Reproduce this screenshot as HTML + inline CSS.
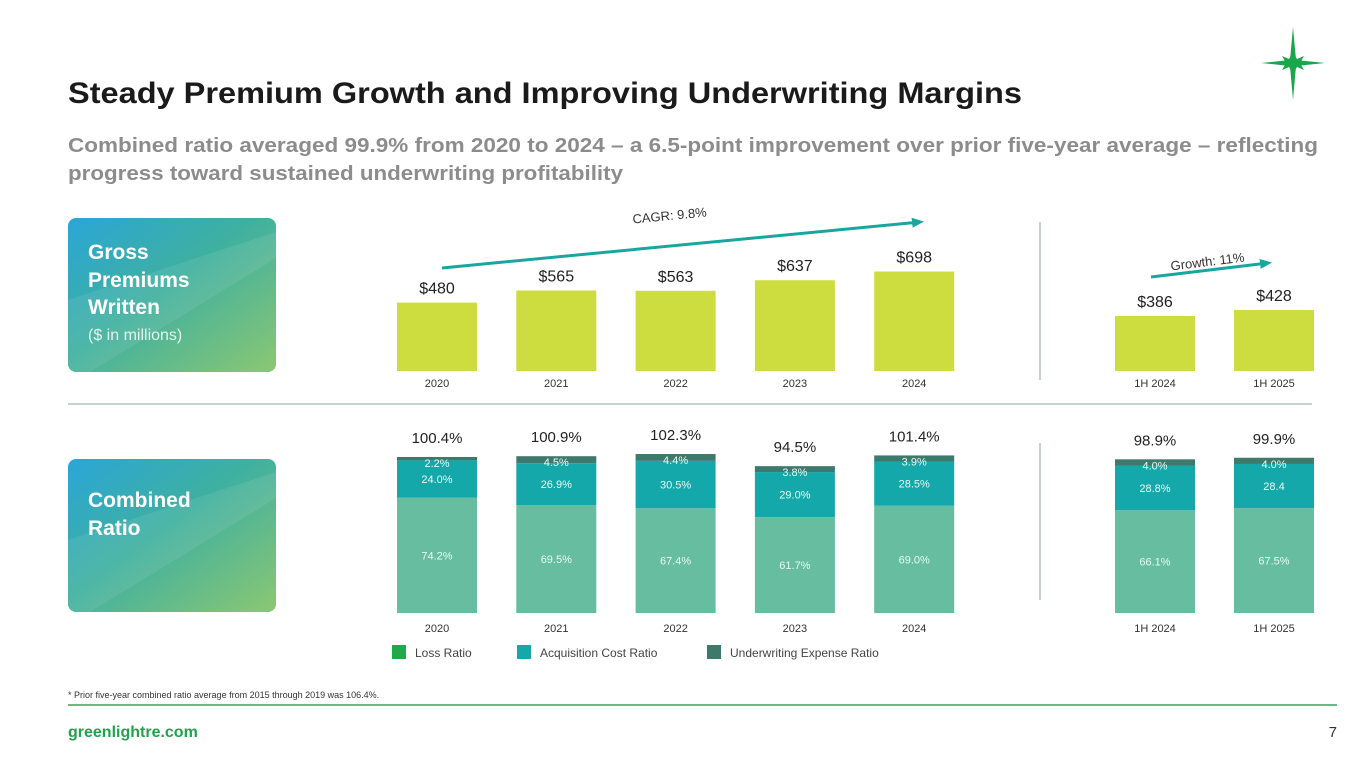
<!DOCTYPE html>
<html><head><meta charset="utf-8">
<style>
html,body{margin:0;padding:0;background:#fff;}
svg{display:block;font-family:"Liberation Sans",sans-serif;}
</style></head>
<body>
<svg id="chart" width="1365" height="768" viewBox="0 0 1365 768" xmlns="http://www.w3.org/2000/svg">
<defs>
<linearGradient id="pg" x1="0" y1="0" x2="1" y2="1">
<stop offset="0" stop-color="#2aa6d8"/><stop offset="0.45" stop-color="#3fb0a0"/><stop offset="1" stop-color="#8cc772"/>
</linearGradient>
<marker id="arr" markerUnits="userSpaceOnUse" markerWidth="12" markerHeight="10" refX="8" refY="5" orient="auto"><path d="M0,0 L12,5 L0,10 z" fill="#1aa6a0"/></marker>
</defs>
<text x="68" y="103" font-size="30" font-weight="bold" fill="#1a1a1a" textLength="954" lengthAdjust="spacingAndGlyphs">Steady Premium Growth and Improving Underwriting Margins</text>
<text x="68" y="152" font-size="20" font-weight="bold" fill="#8c8c8c" textLength="1250" lengthAdjust="spacingAndGlyphs">Combined ratio averaged 99.9% from 2020 to 2024 – a 6.5-point improvement over prior five-year average – reflecting</text>
<text x="68" y="180" font-size="20" font-weight="bold" fill="#8c8c8c" textLength="555" lengthAdjust="spacingAndGlyphs">progress toward sustained underwriting profitability</text>
<g fill="#1aa64a">
<path d="M1293,27 L1296,60 L1325,63 L1296,66 L1293,100 L1290,66 L1261,63 L1290,60 Z"/>
<path d="M1293,52 L1297,59 L1304,56 L1300,63 L1304,70 L1297,67 L1293,74 L1289,67 L1282,70 L1286,63 L1282,56 L1289,59 Z"/>
</g>
<g>
<rect x="68" y="218" width="208" height="154" rx="8" fill="url(#pg)"/>
<path d="M68,300 L276,232 L276,258 L90,372 L68,372 Z" fill="#ffffff" opacity="0.08"/>
<text x="88" y="259" font-size="21" font-weight="bold" fill="#fff">Gross</text>
<text x="88" y="287" font-size="21" font-weight="bold" fill="#fff">Premiums</text>
<text x="88" y="314" font-size="21" font-weight="bold" fill="#fff">Written</text>
<text x="88" y="340" font-size="16" fill="#e4f4ee">($ in millions)</text>
</g>
<g>
<rect x="68" y="459" width="208" height="153" rx="8" fill="url(#pg)"/>
<path d="M68,540 L276,472 L276,498 L90,612 L68,612 Z" fill="#ffffff" opacity="0.08"/>
<text x="88" y="507" font-size="21" font-weight="bold" fill="#fff">Combined</text>
<text x="88" y="535" font-size="21" font-weight="bold" fill="#fff">Ratio</text>
</g>
<line x1="68" y1="404" x2="1312" y2="404" stroke="#c4d6cc" stroke-width="2"/>
<line x1="1040" y1="222" x2="1040" y2="380" stroke="#c8d0cc" stroke-width="2"/>
<line x1="1040" y1="443" x2="1040" y2="600" stroke="#c8d0cc" stroke-width="2"/>
<line x1="442" y1="268" x2="920" y2="222" stroke="#1aa6a0" stroke-width="3" marker-end="url(#arr)"/>
<text x="670" y="220" font-size="13" fill="#333" transform="rotate(-5.5 670 220)" text-anchor="middle">CAGR: 9.8%</text>
<line x1="1151" y1="277" x2="1268" y2="263" stroke="#1aa6a0" stroke-width="3" marker-end="url(#arr)"/>
<text x="1208" y="266" font-size="13" fill="#333" transform="rotate(-7 1208 266)" text-anchor="middle">Growth: 11%</text>
<g id="gpw"></g>
<g id="cr"></g>
<g>
<rect x="392" y="645" width="14" height="14" fill="#1fa94b"/>
<text x="415" y="657" font-size="12" fill="#444">Loss Ratio</text>
<rect x="517" y="645" width="14" height="14" fill="#15a8ab"/>
<text x="540" y="657" font-size="12" fill="#444">Acquisition Cost Ratio</text>
<rect x="707" y="645" width="14" height="14" fill="#3e7a6c"/>
<text x="730" y="657" font-size="12" fill="#444">Underwriting Expense Ratio</text>
</g>
<text x="68" y="698" font-size="9" fill="#333">* Prior five-year combined ratio average from 2015 through 2019 was 106.4%.</text>
<line x1="68" y1="705" x2="1337" y2="705" stroke="#6fb886" stroke-width="2"/>
<text x="68" y="737" font-size="16" font-weight="bold" fill="#22a24c">greenlightre.com</text>
<text x="1337" y="737" font-size="15" fill="#333" text-anchor="end">7</text>
</svg>
<script>
const categories = ["2020","2021","2022","2023","2024","1H 2024","1H 2025"];
const gpwValues = [480,565,563,637,698,386,428];
const gpwLabels = ["$480","$565","$563","$637","$698","$386","$428"];
const lossRatio = [74.2,69.5,67.4,61.7,69.0,66.1,67.5];
const acqRatio = [24.0,26.9,30.5,29.0,28.5,28.8,28.4];
const uwRatio = [2.2,4.5,4.4,3.8,3.9,4.0,4.0];
const totalLabels = ["100.4%","100.9%","102.3%","94.5%","101.4%","98.9%","99.9%"];
const lossLabels = ["74.2%","69.5%","67.4%","61.7%","69.0%","66.1%","67.5%"];
const acqLabels = ["24.0%","26.9%","30.5%","29.0%","28.5%","28.8%","28.4"];
const uwLabels = ["2.2%","4.5%","4.4%","3.8%","3.9%","4.0%","4.0%"];

const NS="http://www.w3.org/2000/svg";
function xCenter(i){ return i<5 ? 437+i*119.3 : 1155+(i-5)*119; }
const barW=80;
function yG(v){ return 371 - v*0.1425; }
function yC(v){ return 613 - v*1.554; }
function mk(tag,attrs,parent,txt){const e=document.createElementNS(NS,tag);for(const k in attrs)e.setAttribute(k,attrs[k]);if(txt!==undefined)e.textContent=txt;parent.appendChild(e);return e;}
const g=document.getElementById('gpw'), c=document.getElementById('cr');
categories.forEach((cat,i)=>{
  const cx=xCenter(i);
  const b=mk('rect',{x:cx-barW/2,y:yG(gpwValues[i]),width:barW,height:371-yG(gpwValues[i]),fill:'#cddc3e'},g);
  
  
  const t=mk('text',{x:cx,y:yG(gpwValues[i])-9,'font-size':16,'text-anchor':'middle',fill:'#222'},g,gpwLabels[i]);
  
  
  const xl=mk('text',{x:cx,y:387,'font-size':11,'text-anchor':'middle',fill:'#333'},g,cat);
  
  
  const l=lossRatio[i],a=acqRatio[i],u=uwRatio[i];
  const r1=mk('rect',{x:cx-barW/2,y:yC(l),width:barW,height:613-yC(l),fill:'#66bd9f'},c);
  
  
  const r2=mk('rect',{x:cx-barW/2,y:yC(l+a),width:barW,height:yC(l)-yC(l+a),fill:'#15a8ab'},c);
  
  
  const r3=mk('rect',{x:cx-barW/2,y:yC(l+a+u),width:barW,height:yC(l+a)-yC(l+a+u),fill:'#3e7a6c'},c);
  
  
  const t1=mk('text',{x:cx,y:(yC(l)+613)/2+4,'font-size':11,'text-anchor':'middle',fill:'#eafaf3'},c,lossLabels[i]);
  
  
  const t2=mk('text',{x:cx,y:(yC(l)+yC(l+a))/2+4,'font-size':11,'text-anchor':'middle',fill:'#eafaf3'},c,acqLabels[i]);
  
  
  const t3=mk('text',{x:cx,y:yC(l+a+u)+10,'font-size':11,'text-anchor':'middle',fill:'#eafaf3'},c,uwLabels[i]);
  
  
  const t4=mk('text',{x:cx,y:yC(l+a+u)-14,'font-size':15,'text-anchor':'middle',fill:'#222'},c,totalLabels[i]);
  
  
  const xl2=mk('text',{x:cx,y:632,'font-size':11,'text-anchor':'middle',fill:'#333'},c,cat);
  
  
});
</script>
</body></html>
